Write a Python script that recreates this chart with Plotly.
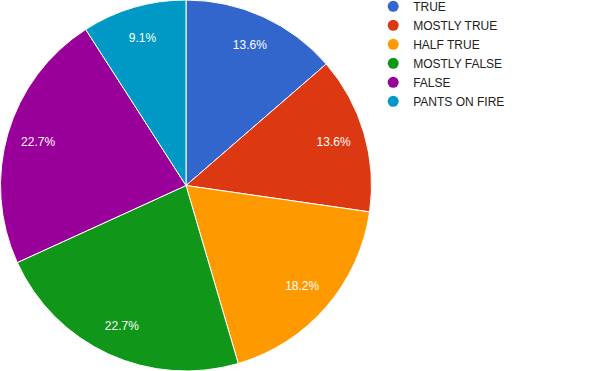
import plotly.graph_objects as go

labels = ["TRUE", "MOSTLY TRUE", "HALF TRUE", "MOSTLY FALSE", "FALSE", "PANTS ON FIRE"]
values = [3, 3, 4, 5, 5, 2]
colors = ["#3366cc", "#dc3912", "#ff9900", "#109618", "#990099", "#0099c6"]

dom = dict(x=[0, 372/600], y=[0, 1])
fig = go.Figure()
fig.add_trace(go.Pie(
    labels=labels, values=values, sort=False, direction="clockwise", rotation=0,
    marker=dict(colors=colors, line=dict(color="white", width=1)),
    textinfo="none", domain=dom,
    showlegend=False, hoverinfo="label+percent",
))
# transparent ring carrying the percentage labels, placed further out like the original
fig.add_trace(go.Pie(
    labels=labels, values=values, sort=False, direction="clockwise", rotation=0,
    hole=0.66,
    marker=dict(colors=["rgba(0,0,0,0)"] * len(labels), line=dict(width=0)),
    texttemplate="%{percent:.1%}", textposition="inside", insidetextorientation="horizontal",
    textfont=dict(family="Liberation Sans, Arial", size=12, color="white"),
    domain=dom, showlegend=False, hoverinfo="skip",
))
for lab, col in zip(labels, colors):
    fig.add_trace(go.Scatter(
        x=[None], y=[None], mode="markers", name=lab,
        marker=dict(symbol="circle", size=11, color=col),
    ))

fig.update_layout(
    width=600, height=371, margin=dict(l=0, r=0, t=0, b=0, autoexpand=False),
    paper_bgcolor="white", plot_bgcolor="white",
    font=dict(family="Liberation Sans, Arial", size=12, color="#222222"),
    xaxis=dict(visible=False), yaxis=dict(visible=False),
    legend=dict(x=0.622, y=1.022, xanchor="left", yanchor="top",
                font=dict(size=12, color="#222222"), tracegroupgap=0,
                itemwidth=30, bgcolor="rgba(0,0,0,0)"),
)
fig.write_html("out.html", config={"displayModeBar": False},
               post_script="document.body.style.margin='0';document.body.style.overflow='hidden';")
